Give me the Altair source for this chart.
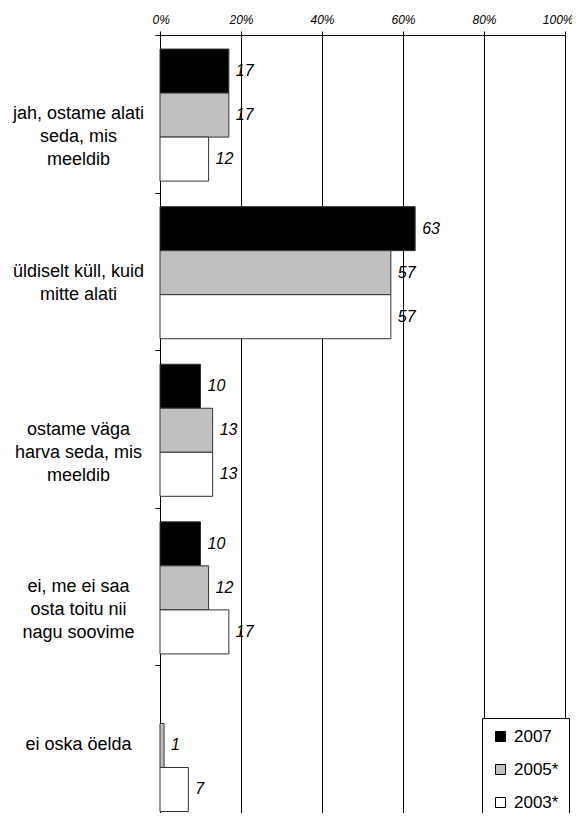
import altair as alt
import pandas as pd

categories = [
    "jah, ostame alati|seda, mis|meeldib",
    "üldiselt küll, kuid|mitte alati",
    "ostame väga|harva seda, mis|meeldib",
    "ei, me ei saa|osta toitu nii|nagu soovime",
    "ei oska öelda",
]
series = ["2007", "2005*", "2003*"]
values_2007 = [17, 63, 10, 10, None]
values_2005 = [17, 57, 13, 12, 1]
values_2003 = [12, 57, 13, 17, 7]
colors = ["#000000", "#c0c0c0", "#ffffff"]
x_ticks = [0, 20, 40, 60, 80, 100]

rows = []
for s, vals in zip(series, [values_2007, values_2005, values_2003]):
    for c, v in zip(categories, vals):
        rows.append({"category": c, "series": s, "value": v})
df = pd.DataFrame(rows)

FONT = "Liberation Sans"

y_enc = alt.Y(
    "category:N",
    sort=categories,
    title=None,
    scale=alt.Scale(paddingInner=0, paddingOuter=0),
    axis=alt.Axis(
        tickBand="extent",
        tickSize=5,
        tickColor="black",
        domainColor="black",
        labelExpr="split(datum.label, '|')",
        labelAlign="center",
        labelBaseline="middle",
        labelPadding=77,
        labelFontSize=18,
        labelLineHeight=23,
        labelColor="black",
        labelFont=FONT,
        labelLimit=300,
        grid=False,
    ),
)
yoff_enc = alt.YOffset(
    "series:N",
    sort=series,
    scale=alt.Scale(paddingInner=0, paddingOuter=0.29, align=0.55),
)
x_enc = alt.X(
    "value:Q",
    title=None,
    scale=alt.Scale(domain=[0, 100]),
    axis=alt.Axis(
        orient="top",
        values=x_ticks,
        labelExpr="datum.value + '%'",
        labelFontStyle="italic",
        labelFontSize=12,
        labelFont=FONT,
        labelColor="black",
        labelFlush=True,
        labelFlushOffset=8,
        tickSize=4,
        tickColor="black",
        labelPadding=5,
        domainColor="black",
        grid=True,
        gridColor="black",
        gridOpacity=1,
        gridWidth=1,
    ),
)

bars = alt.Chart(df).mark_bar(stroke="#333333", strokeWidth=1).encode(
    y=y_enc,
    yOffset=yoff_enc,
    x=x_enc,
    fill=alt.Fill(
        "series:N",
        sort=series,
        scale=alt.Scale(domain=series, range=colors),
        legend=alt.Legend(
            title=None,
            orient="none",
            legendX=322,
            legendY=683,
            padding=10,
            strokeColor="black",
            fillColor="white",
            symbolType="square",
            symbolSize=100,
            symbolStrokeColor="black",
            symbolStrokeWidth=1,
            symbolOpacity=1,
            labelFontSize=17,
            labelFont=FONT,
            labelColor="black",
            labelOffset=5,
            rowPadding=15,
        ),
    ),
)

labels = alt.Chart(df).transform_filter("isValid(datum.value)").mark_text(
    align="left", baseline="middle", dx=7, fontSize=16, fontStyle="italic",
    font=FONT, color="black",
).encode(
    y=alt.Y("category:N", sort=categories),
    yOffset=alt.YOffset("series:N", sort=series),
    x=alt.X("value:Q"),
    text=alt.Text("value:Q"),
)

chart = alt.layer(bars, labels).properties(
    width=405,
    height=788,
    autosize=alt.AutoSizeParams(type="none"),
    padding={"left": 152, "top": 27, "right": 7, "bottom": -10},
).configure_view(stroke=None).configure(font=FONT)

chart.save("out.html", embed_options={"renderer": "svg", "actions": False})
